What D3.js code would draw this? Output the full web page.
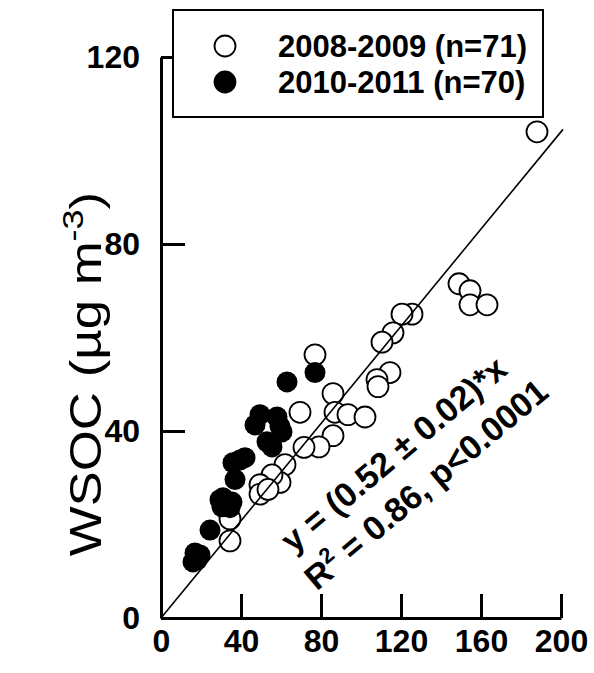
<!DOCTYPE html>
<html>
<head>
<meta charset="utf-8">
<script src="https://cdn.jsdelivr.net/npm/d3@7"></script>
<style>
  body { margin: 0; background: #fff; }
  svg text { font-family: Arial, "Liberation Sans", sans-serif; }
</style>
</head>
<body>
<div class="chart"></div>
<script>
// Data (x = OC-ish axis, y = WSOC)
let xTicks = [0, 40, 80, 120, 160, 200],
    yTicks = [0, 40, 80, 120],
    seriesNames = ['2008-2009 (n=71)', '2010-2011 (n=70)'],
    slope = 0.52,
    fitLabel = 'y = (0.52 \u00b1 0.02)*x';

let open0809 = [
    [188, 104], [149, 71.5], [154.5, 70], [154.5, 67], [163, 67],
    [125.5, 65], [120.5, 65], [116, 61], [110.5, 59], [114.5, 52.5],
    [108, 51], [108.5, 49.5], [77, 56.3], [86, 48], [87, 44],
    [93.5, 43.5], [102, 43], [86, 39], [79, 36.6], [71.5, 36.5],
    [69.5, 44], [62, 32.8], [59.5, 29], [55.5, 30.6], [49.5, 28.5],
    [49.5, 26.5], [53.5, 27.5], [34.5, 21.2], [34.5, 16.5]
];

let filled1011 = [
    [77, 52.5], [63, 50.5], [49.5, 43.5], [58, 43], [47, 41.3],
    [59.5, 41], [60.5, 39.8], [53, 37.7], [55.5, 36.6], [42, 34.3],
    [39.5, 33.8], [36, 33.2], [37, 29.6], [29.5, 25.3], [35.5, 24.8],
    [31, 25.7], [30.5, 23.8], [34.5, 23.6], [24.5, 18.8], [17, 13.9],
    [16, 12], [19.5, 13.5], [18, 12.4]
];

let width = 594,
    height = 673,
    r = 10.5;

let svg = d3.select('.chart')
    .append('svg')
    .attr('width', width)
    .attr('height', height);

let x = d3.scaleLinear().domain([0, 200]).range([161, 561]),
    y = d3.scaleLinear().domain([0, 120]).range([618, 57]);

// Axes, ticks point inward
let xAxis = svg.append('g')
    .attr('transform', 'translate(0,' + y(0) + ')')
    .call(d3.axisBottom(x).tickValues(xTicks).tickSizeInner(-24).tickSizeOuter(0).tickPadding(11));
let yAxis = svg.append('g')
    .attr('transform', 'translate(' + x(0) + ',0)')
    .call(d3.axisLeft(y).tickValues(yTicks).tickSizeInner(-24).tickSizeOuter(0).tickPadding(21));

[xAxis, yAxis].forEach((g) => {
    g.select('.domain').attr('stroke', '#000').attr('stroke-width', 3);
    g.selectAll('.tick line').attr('stroke', '#000').attr('stroke-width', 3);
    g.selectAll('.tick text')
        .attr('fill', '#000')
        .style('font-size', '32px')
        .style('font-weight', 'bold');
});

// Y axis title (stretched a bit along its length, like the source)
let yTitle = svg.append('text')
    .attr('transform', 'translate(101,374) rotate(-90) scale(1.2,1)')
    .attr('text-anchor', 'middle')
    .style('font-size', '44px');
yTitle.append('tspan').text('WSOC (\u00b5g m');
yTitle.append('tspan').attr('dy', -18).style('font-size', '30px').text('-3');
yTitle.append('tspan').attr('dy', 18).text(')');

// Open circles first
svg.append('g')
    .selectAll('circle')
    .data(open0809)
    .enter().append('circle')
    .attr('cx', (d) => x(d[0]))
    .attr('cy', (d) => y(d[1]))
    .attr('r', r)
    .attr('fill', '#fff')
    .attr('stroke', '#000')
    .attr('stroke-width', 1.8);

// Regression line through origin
svg.append('line')
    .attr('x1', x(0)).attr('y1', y(0))
    .attr('x2', x(201)).attr('y2', y(slope * 201))
    .attr('stroke', '#000')
    .attr('stroke-width', 1.6);

svg.append('g')
    .selectAll('circle')
    .data(filled1011)
    .enter().append('circle')
    .attr('cx', (d) => x(d[0]))
    .attr('cy', (d) => y(d[1]))
    .attr('r', r)
    .attr('fill', '#000');

// Fit annotation
let note = svg.append('g')
    .attr('transform', 'translate(293,554) rotate(-40)')
    .style('font-size', '34px')
    .style('font-weight', 'bold');
note.append('text').attr('x', 0).attr('y', 0).text(fitLabel);
let l2 = note.append('text').attr('x', -6).attr('y', 44);
l2.append('tspan').text('R');
l2.append('tspan').attr('dy', -14).style('font-size', '22px').text('2');
l2.append('tspan').attr('dy', 14).text(' = 0.86, p<0.0001');

// Legend
let legend = svg.append('g');
legend.append('rect')
    .attr('x', 173).attr('y', 10)
    .attr('width', 370).attr('height', 107)
    .attr('fill', '#fff')
    .attr('stroke', '#000')
    .attr('stroke-width', 2);
seriesNames.forEach((name, i) => {
    legend.append('circle')
        .attr('cx', 225).attr('cy', 46 + i * 36)
        .attr('r', r)
        .attr('fill', i ? '#000' : '#fff')
        .attr('stroke', '#000')
        .attr('stroke-width', 1.8);
    legend.append('text')
        .attr('x', 278).attr('y', 57 + i * 36)
        .style('font-size', '31px')
        .style('font-weight', 'bold')
        .text(name);
});
</script>
</body>
</html>
